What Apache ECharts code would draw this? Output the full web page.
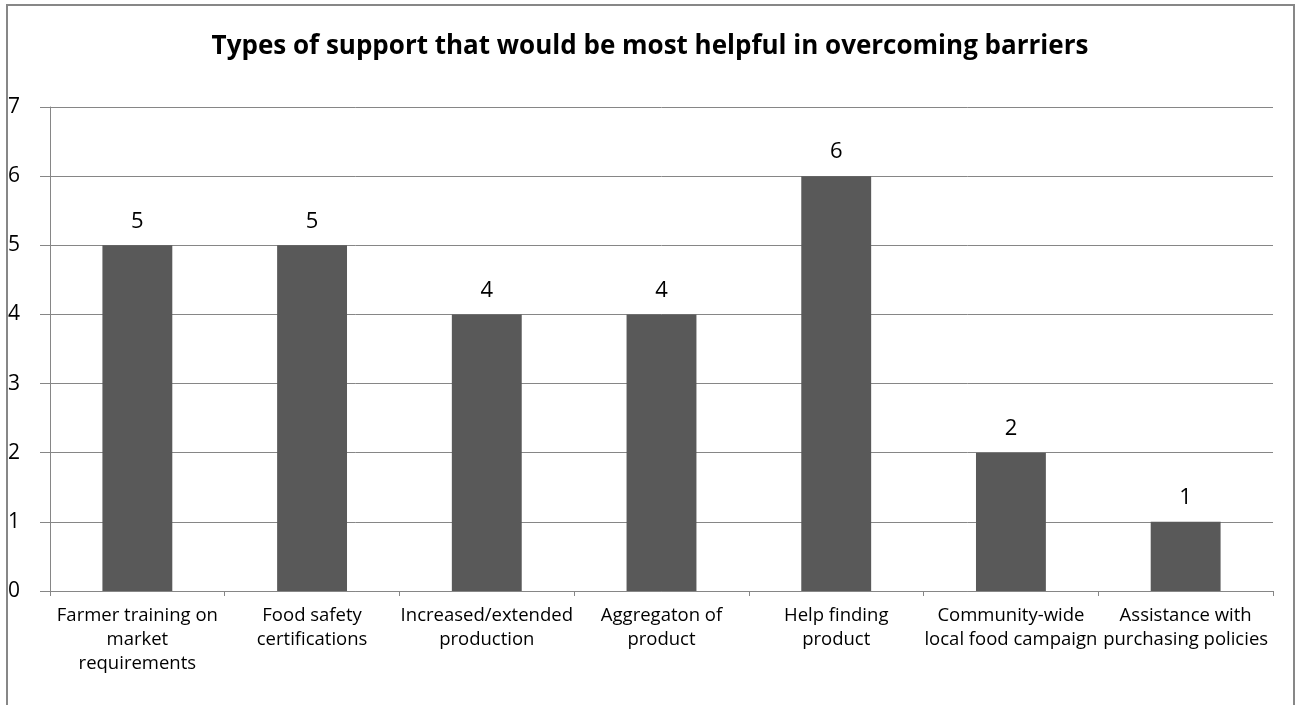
<!DOCTYPE html>
<html>
<head>
<meta charset="utf-8">
<title>Types of support</title>
<script src="https://cdn.jsdelivr.net/npm/echarts@6/dist/echarts.min.js"></script>
<style>
  html, body { margin: 0; padding: 0; background: #fff; }
  #chart { width: 1300px; height: 705px; }
</style>
</head>
<body>
<div id="chart"></div>
<script>
// Survey responses: types of support
const categories = [
  'Farmer training on\nmarket\nrequirements',
  'Food safety\ncertifications',
  'Increased/extended\nproduction',
  'Aggregaton of\nproduct',
  'Help finding\nproduct',
  'Community-wide\nlocal food campaign',
  'Assistance with\npurchasing policies'
];
const counts = [5, 5, 4, 4, 6, 2, 1];
const yTicks = [0, 1, 2, 3, 4, 5, 6, 7];

const FONT = '"Open Sans", Lato, sans-serif';
const chart = echarts.init(document.getElementById('chart'), null, { renderer: 'canvas' });

chart.setOption({
  backgroundColor: '#ffffff',
  animation: false,
  title: {
    text: 'Types of support that would be most helpful in overcoming barriers',
    left: 'center',
    top: 29,
    textStyle: { fontFamily: FONT, fontWeight: 'bold', fontSize: 26, color: '#000' }
  },
  graphic: [{
    type: 'rect',
    shape: { x: 7, y: 5, width: 1287, height: 740 },
    style: { fill: 'none', stroke: '#878787', lineWidth: 2 },
    silent: true
  }],
  grid: { left: 50, right: 27, top: 107, bottom: 114 },
  xAxis: {
    type: 'category',
    data: categories,
    axisLine: { show: true, lineStyle: { color: '#868686', width: 1 } },
    axisTick: { show: true, length: 5, alignWithLabel: false, lineStyle: { color: '#868686' } },
    axisLabel: {
      interval: 0, margin: 13, fontFamily: FONT, fontSize: 18.5, color: '#000', lineHeight: 24
    }
  },
  yAxis: {
    type: 'value',
    min: yTicks[0],
    max: yTicks[yTicks.length - 1],
    interval: 1,
    axisLine: { show: true, lineStyle: { color: '#868686', width: 1 } },
    axisTick: { show: true, length: 10, lineStyle: { color: '#868686' } },
    axisLabel: {
      align: 'left', margin: 42, fontFamily: FONT, fontSize: 21, color: '#000',
      formatter: v => yTicks.includes(v) ? String(v) : ''
    },
    splitLine: { show: true, lineStyle: { color: '#868686', width: 1 } }
  },
  series: [{
    type: 'bar',
    data: counts,
    barWidth: '40%',
    itemStyle: { color: '#595959' },
    label: {
      show: true, position: 'top', distance: 13,
      fontFamily: FONT, fontSize: 22, color: '#000'
    }
  }]
});
</script>
</body>
</html>
